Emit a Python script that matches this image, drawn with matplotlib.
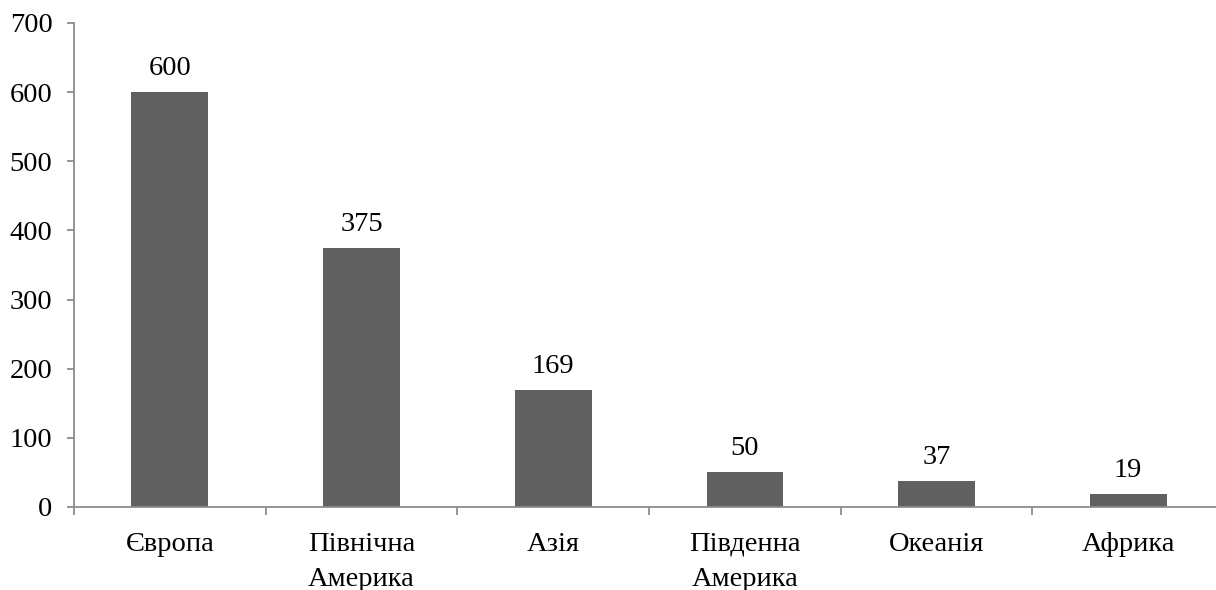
import numpy as np
import matplotlib.pyplot as plt
from matplotlib.ticker import FixedLocator

regions = ["Європа", "Північна\nАмерика", "Азія", "Південна\nАмерика", "Океанія", "Африка"]
counts = [600, 375, 169, 50, 37, 19]
y_ticks = [0, 100, 200, 300, 400, 500, 600, 700]

plt.rcParams['font.family'] = ['Liberation Serif', 'DejaVu Serif']
plt.rcParams['font.size'] = 20.5

bar_color = "#606060"
axis_color = "#8c8c8c"

fig = plt.figure(figsize=(12.16, 5.9), dpi=100)
# axis runs a little past the right edge, as the category axis is clipped there
ax = fig.add_axes([74 / 1216, 83 / 590, 1150 / 1216, 484 / 590])

x = np.arange(len(regions))
ax.bar(x, counts, width=0.4, color=bar_color, zorder=2)

for xi, v in zip(x, counts):
    ax.annotate(str(v), (xi, v), xytext=(0, 8), textcoords="offset points",
                ha="center", va="bottom")

ax.set_xlim(-0.5, len(regions) - 0.5)
ax.set_ylim(0, 700)
ax.set_yticks(y_ticks)

ax.set_xticks(x)
ax.set_xticklabels(regions, linespacing=1.5)
ax.xaxis.set_minor_locator(FixedLocator(np.arange(-0.5, len(regions), 1.0)))
ax.tick_params(axis="x", which="major", length=0, pad=18)
ax.tick_params(axis="x", which="minor", length=6, width=1.3, color=axis_color)
ax.tick_params(axis="y", length=5, width=1.3, color=axis_color, pad=10.5)

for side in ["top", "right"]:
    ax.spines[side].set_visible(False)
for side in ["left", "bottom"]:
    ax.spines[side].set_color(axis_color)
    ax.spines[side].set_linewidth(1.3)

fig.savefig("out.png", dpi=100)
